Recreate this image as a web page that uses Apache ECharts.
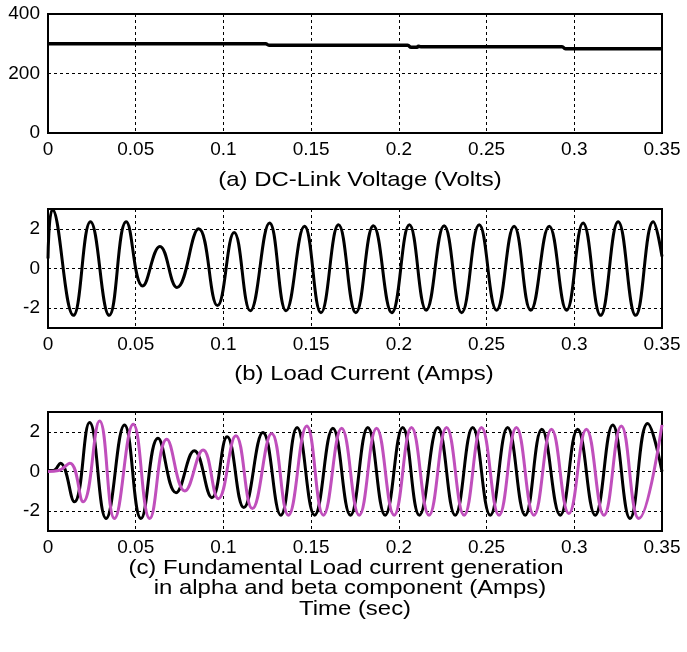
<!DOCTYPE html>
<html>
<head>
<meta charset="utf-8">
<script src="https://cdn.jsdelivr.net/npm/echarts@6/dist/echarts.min.js"></script>
<style>
    html, body {margin: 0; padding: 0; background: #fff;}
    #main {width: 687px; height: 652px;}
</style>
</head>
<body>
<div id="main"></div>
<script>
    // time axis ticks (sec)
    var timeTicks = [0, 0.05, 0.1, 0.15, 0.2, 0.25, 0.3, 0.35];
    var voltTicks = [0, 200, 400];
    var ampTicks = [-2, 0, 2];

    // (a) DC-link voltage, [time, volts]
    var dcLinkVoltage = [
        [0, 300], [0.124, 300], [0.126, 295], [0.205, 295], [0.207, 288],
        [0.2105, 288], [0.211, 292], [0.2125, 290], [0.293, 290], [0.295, 283], [0.35, 283]
    ];

    // (b) load current, peaks and troughs
    var loadCurrent = [
        [0, 0.5], [0.0025, 2.98], [0.0145, -2.36], [0.0242, 2.36], [0.0349, -2.36],
        [0.0446, 2.36], [0.054, -0.88], [0.0638, 1.11], [0.0735, -0.96], [0.0859, 2.0],
        [0.0966, -1.87], [0.1061, 1.82], [0.1153, -2.13], [0.1263, 2.3], [0.1357, -2.13],
        [0.1462, 2.13], [0.1556, -2.23], [0.1656, 2.2], [0.1755, -2.23], [0.1855, 2.16],
        [0.196, -2.23], [0.206, 2.2], [0.2156, -2.1], [0.2258, 2.16], [0.2358, -2.23],
        [0.2458, 2.2], [0.2557, -2.1], [0.2657, 2.13], [0.2752, -2.1], [0.2857, 2.13],
        [0.2956, -2.1], [0.305, 2.3], [0.315, -2.36], [0.325, 2.36], [0.335, -2.36],
        [0.345, 2.36], [0.35, 0.6]
    ];

    // (c) fundamental load current, alpha component (black)
    var alphaCurrent = [
        [0, 0.05], [0.003, 0.05], [0.007, 0.42], [0.015, -1.53], [0.0237, 2.47],
        [0.0331, -2.37], [0.0436, 2.35], [0.053, -2.37], [0.0627, 1.68], [0.073, -1.07],
        [0.0834, 1.05], [0.0934, -1.32], [0.1021, 1.75], [0.1116, -1.82], [0.1225, 1.97],
        [0.1327, -2.2], [0.142, 2.22], [0.152, -2.2], [0.1624, 2.18], [0.1724, -2.2],
        [0.1823, 2.22], [0.1922, -2.2], [0.2022, 2.22], [0.2117, -2.2], [0.2222, 2.22],
        [0.2321, -2.2], [0.2421, 2.22], [0.2521, -2.2], [0.262, 2.22], [0.272, -2.2],
        [0.2815, 2.13], [0.292, -2.2], [0.3019, 2.13], [0.3119, -2.2], [0.3219, 2.35],
        [0.3318, -2.37], [0.3418, 2.42], [0.35, 0.0]
    ];

    // (c) beta component (magenta)
    var betaCurrent = [
        [0, 0.0], [0.006, 0.05], [0.0125, 0.42], [0.02, -1.53], [0.0294, 2.55],
        [0.0379, -2.37], [0.0486, 2.38], [0.058, -2.37], [0.0677, 1.63], [0.078, -0.98],
        [0.0884, 1.08], [0.0971, -1.37], [0.1071, 1.8], [0.1165, -1.87], [0.1275, 1.92],
        [0.137, -2.2], [0.1475, 2.3], [0.157, -2.2], [0.1674, 2.18], [0.1774, -2.2],
        [0.1873, 2.18], [0.1973, -2.2], [0.2072, 2.22], [0.2172, -2.2], [0.2272, 2.22],
        [0.2372, -2.2], [0.2471, 2.22], [0.2571, -2.2], [0.267, 2.22], [0.277, -2.2],
        [0.287, 2.13], [0.2969, -2.12], [0.3069, 2.13], [0.3169, -2.2], [0.3268, 2.3],
        [0.3368, -2.37], [0.35, 2.35]
    ];

    var FONT = 'Liberation Sans, Arial, sans-serif';

    function timeAxis(gridIndex) {
        return {
            type: 'value',
            gridIndex: gridIndex,
            min: timeTicks[0],
            max: timeTicks[timeTicks.length - 1],
            interval: 0.05,
            axisLine: {show: true, onZero: false, lineStyle: {color: '#000', width: 2}},
            axisTick: {show: false},
            axisLabel: {color: '#000', fontSize: 19, fontFamily: FONT, margin: 7, showMaxLabel: true, showMinLabel: true},
            splitLine: {show: true, lineStyle: {color: '#000', width: 1, type: [3, 3]}}
        };
    }

    function valueAxis(gridIndex, min, max, ticks) {
        return {
            type: 'value',
            gridIndex: gridIndex,
            min: min,
            max: max,
            axisLine: {show: true, onZero: false, lineStyle: {color: '#000', width: 2}},
            axisTick: {show: false, customValues: ticks},
            axisLabel: {color: '#000', fontSize: 19, fontFamily: FONT, margin: 8, customValues: ticks},
            splitLine: {show: true, lineStyle: {color: '#000', width: 1, type: [3, 3]}}
        };
    }

    function lineSeries(idx, data, color, width) {
        return {
            type: 'line',
            xAxisIndex: idx,
            yAxisIndex: idx,
            data: data,
            showSymbol: false,
            smooth: 0.45,
            lineStyle: {color: color, width: width},
            animation: false
        };
    }

    function caption(text, x, y) {
        return {
            type: 'text',
            x: x,
            y: y,
            scaleX: 1.14,
            style: {text: text, fill: '#000', font: '21px ' + FONT, align: 'center', verticalAlign: 'middle'}
        };
    }

    var chart = echarts.init(document.getElementById('main'), null, {renderer: 'canvas'});
    var gridBox = {show: true, left: 48, width: 614, height: 119, borderColor: '#000', borderWidth: 2, backgroundColor: 'transparent'};
    var option = {
        animation: false,
        backgroundColor: '#fff',
        grid: [
            Object.assign({top: 14}, gridBox),
            Object.assign({top: 209}, gridBox),
            Object.assign({top: 412}, gridBox)
        ],
        xAxis: [timeAxis(0), timeAxis(1), timeAxis(2)],
        yAxis: [
            valueAxis(0, 0, 400, voltTicks),
            valueAxis(1, -3, 3, ampTicks),
            valueAxis(2, -3, 3, ampTicks)
        ],
        series: [
            lineSeries(0, dcLinkVoltage, '#000', 3.5),
            lineSeries(1, loadCurrent, '#000', 3),
            lineSeries(2, alphaCurrent, '#000', 3),
            lineSeries(2, betaCurrent, '#c04fbc', 3)
        ],
        graphic: [
            caption('(a) DC-Link Voltage (Volts)', 360, 180),
            caption('(b) Load Current (Amps)', 364, 374),
            caption('(c) Fundamental Load current generation', 346, 568),
            caption('in alpha and beta component (Amps)', 350, 588),
            caption('Time (sec)', 355, 609)
        ]
    };
    chart.setOption(option);
</script>
</body>
</html>
